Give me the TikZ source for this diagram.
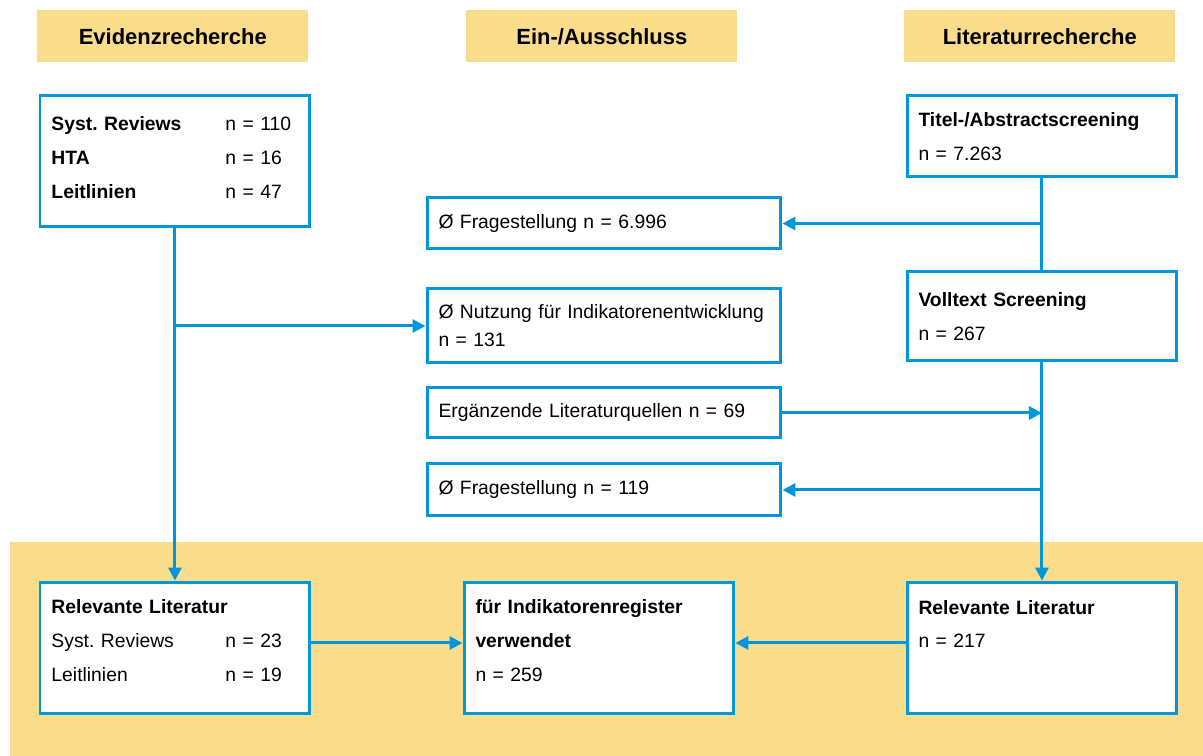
\documentclass[tikz,border=0pt]{standalone}
\usepackage{fontspec}
\setmainfont{Liberation Sans}
\usetikzlibrary{arrows.meta}
\definecolor{ablau}{RGB}{0,150,220}
\definecolor{agelb}{RGB}{249,220,140}
\newcommand{\zeile}[2]{\makebox[3.48cm][l]{#1}#2}
\frenchspacing

\begin{document}
\begin{tikzpicture}[x=0.02cm, y=-0.02cm,
    kopf/.style={fill=agelb, anchor=north west, minimum width=5.42cm, minimum height=1.04cm, font=\fontsize{12.5}{15}\selectfont\bfseries},
    kasten/.style={draw=ablau, line width=0.06cm, fill=white, anchor=north west, inner xsep=0.23cm, inner ysep=0pt, align=left, font=\fontsize{11}{19.3}\selectfont},
    breit/.style={kasten, minimum width=5.4cm, text width=4.94cm},
    lang/.style={kasten, minimum width=7.08cm, text width=6.62cm},
    hoch/.style={execute at end node={\endgraf\vspace*{#1}}},
    pfeil/.style={draw=ablau, line width=0.06cm, -{Triangle[length=0.26cm, width=0.26cm]}},
    linie/.style={draw=ablau, line width=0.06cm}]
  \useasboundingbox (0,0) rectangle (1203,756);

  % Hintergrund unten
  \fill[agelb] (10,542) rectangle (1203,756);

  % Kopfzeile
  \node[kopf] (hevid) at (37,10) {Evidenzrecherche};
  \node[kopf] (hein) at (466,10) {Ein-/Ausschluss};
  \node[kopf] (hlit) at (904,10) {Literaturrecherche};

  % Evidenzrecherche
  \node[breit, hoch=0.16cm, minimum height=2.62cm] (evid) at (38.5,94.5)
    {\zeile{\textbf{Syst. Reviews}}{n = 110}\\ \zeile{\textbf{HTA}}{n = 16}\\ \zeile{\textbf{Leitlinien}}{n = 47}};

  % Literaturrecherche
  \node[breit, minimum height=1.62cm] (titel) at (905.5,94.5) {\textbf{Titel-/Abstractscreening}\\ n = 7.263};
  \node[breit, minimum height=1.78cm] (voll) at (905.5,270.5) {\textbf{Volltext Screening}\\ n = 267};

  % Ein-/Ausschluss
  \node[lang, minimum height=1.02cm] (frage1) at (425.5,196.5) {Ø Fragestellung n = 6.996};
  \node[lang, minimum height=1.48cm, font=\fontsize{11}{16}\selectfont] (nutz) at (425.5,287.5)
    {Ø Nutzung für Indikatorenentwicklung\\ n = 131};
  \node[lang, minimum height=1.0cm] (ergae) at (425.5,386.5) {Ergänzende Literaturquellen n = 69};
  \node[lang, minimum height=1.04cm] (frage2) at (425.5,462.5) {Ø Fragestellung n = 119};

  % Ergebnis
  \node[breit, hoch=0.28cm, minimum height=2.64cm] (relL) at (38.5,580.5)
    {\textbf{Relevante Literatur}\\ \zeile{Syst. Reviews}{n = 23}\\ \zeile{Leitlinien}{n = 19}};
  \node[breit, hoch=0.28cm, minimum height=2.64cm] (mid) at (462.5,580.5)
    {\textbf{für Indikatorenregister}\\ \textbf{verwendet}\\ n = 259};
  \node[breit, hoch=0.28cm, minimum height=2.64cm] (relR) at (905.5,580.5)
    {\textbf{Relevante Literatur}\\ n = 217\\ \mbox{}};

  % linke Spalte
  \draw[pfeil] (evid.south) -- (relL.north);
  \draw[pfeil] (evid.south |- nutz.west) -- (nutz.west);

  % rechte Spalte
  \draw[linie] (titel.south) -- (voll.north);
  \draw[pfeil] (titel.south |- frage1.east) -- (frage1.east);
  \draw[pfeil] (voll.south) -- (relR.north);
  \draw[pfeil] (ergae.east) -- (voll.south |- ergae.east);
  \draw[pfeil] (voll.south |- frage2.east) -- (frage2.east);

  % unten
  \draw[pfeil] ([yshift=0.1cm]relL.east) -- ([yshift=0.1cm]mid.west);
  \draw[pfeil] ([yshift=0.1cm]relR.west) -- ([yshift=0.1cm]mid.east);
\end{tikzpicture}
\end{document}
